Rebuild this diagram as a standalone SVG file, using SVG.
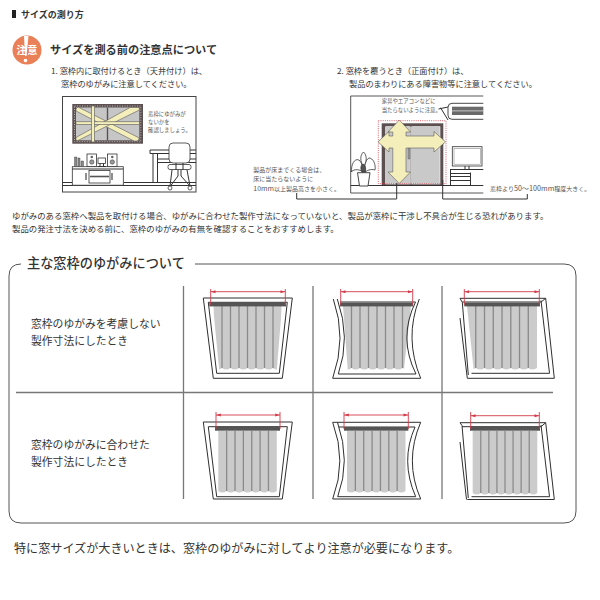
<svg xmlns="http://www.w3.org/2000/svg" width="600" height="600" viewBox="0 0 600 600">
<style>
text{font-family:"Noto Sans CJK JP","Noto Sans",sans-serif;fill:#333}
.b{font-size:8.2px}
.t{font-size:8.42px}
.s{font-size:5.4px;fill:#555}
.m{font-size:6px;fill:#555}
.l{font-size:10.8px}
.ln{fill:none;stroke:#333;stroke-width:1}
.fr{fill:none;stroke:#2f2f2f;stroke-width:1}
.g{fill:none;stroke:#777;stroke-width:1.3}
.rd{fill:none;stroke:#d23a48;stroke-width:.9}
.rh{fill:#d23a48}
.rail{fill:#555}
.pl{fill:#cbcbcb}
.sp{stroke:#8a8a8a;stroke-width:1.3;fill:none}
.y{fill:#f4eebb;stroke:#5a5a5a;stroke-width:.6}
.wh{fill:#fff;stroke:#333;stroke-width:.8}
</style>
<defs>
<g id="c8">
<path class="pl" d="M0 0H68V62q-4.250 3-8.500 0q-4.250 3-8.500 0q-4.250 3-8.500 0q-4.250 3-8.500 0q-4.250 3-8.500 0q-4.250 3-8.500 0q-4.250 3-8.500 0q-4.250 3-8.500 0Z"/>
<path class="sp" d="M8.500 0V62M17 0V62M25.500 0V62M34 0V62M42.500 0V62M51 0V62M59.500 0V62"/>
</g>
<g id="c7">
<path class="pl" d="M0 0H58.500V60q-4.180 3-8.360 0q-4.180 3-8.360 0q-4.180 3-8.360 0q-4.180 3-8.360 0q-4.180 3-8.360 0q-4.180 3-8.360 0q-4.180 3-8.340 0Z"/>
<path class="sp" d="M8.360 0V60M16.720 0V60M25.080 0V60M33.440 0V60M41.800 0V60M50.160 0V60"/>
</g>
<clipPath id="k1"><polygon points="213,306 282,306 276.500,373 219.500,373"/></clipPath>
<clipPath id="k2"><polygon points="343,306 411,306 403.500,373 348,373"/></clipPath>
<clipPath id="k3"><polygon points="467,306 537,306 537,373 474,373"/></clipPath>
</defs>

<g id="header">
<rect x="12" y="10" width="4" height="8" fill="#222"/>
<text x="21" y="18" font-size="9" font-weight="700">サイズの測り方</text>
</g>

<g id="notice-icon">
<circle cx="27" cy="50" r="14.500" fill="#e98058"/>
<polygon points="24,36 28.500,36 26.500,56 25,56" fill="#fff"/>
<circle cx="25.500" cy="60.500" r="1.800" fill="#fff"/>
<text x="16.500" y="53.500" font-size="9.800" font-weight="700" style="fill:#fff">注</text>
<text x="27.500" y="53.500" font-size="9.800" font-weight="700" style="fill:#fff">意</text>
</g>
<text id="heading" x="50" y="54" font-size="11.200" font-weight="700">サイズを測る前の注意点について</text>

<g id="case1-text">
<text class="b" x="51" y="74">1. 窓枠内に取付けるとき（天井付け）は、</text>
<text class="b" x="61" y="87">窓枠のゆがみに注意してください。</text>
</g>
<g id="case2-text">
<text class="b" x="337" y="74">2. 窓枠を覆うとき（正面付け）は、</text>
<text class="b" x="349" y="87">製品のまわりにある障害物等に注意してください。</text>
</g>

<g id="room1">
<rect x="62.500" y="96.500" width="133.500" height="95.500" fill="#fff" stroke="#444" stroke-width="1"/>
<path class="ln" d="M62.500 182.500H72M123.500 182.500H196M62.500 185.500H196"/>
<rect x="72.300" y="104" width="70.700" height="39.700" fill="#5c5050"/>
<rect x="74.500" y="106" width="66.300" height="35.700" fill="none" stroke="#fff" stroke-width=".6" stroke-dasharray="1 1.500"/>
<rect x="76" y="107.500" width="63.300" height="32.800" fill="#c6c6c6"/>
<rect x="106.800" y="107.500" width="1.400" height="32.800" fill="#5c5050"/>
<g class="y">
<polygon points="76,109 78,107 139.300,138 137.500,141 134,141 76,111"/>
<polygon points="76,137.500 130,107.500 135,107.500 139.300,107.500 139.300,110 78,140.500 76,140.300"/>
<rect x="76" y="121.800" width="63.300" height="2.600"/>
<rect x="91.500" y="106" width="3" height="36"/>
</g>
<text class="s" x="148" y="116">窓枠にゆがみが</text>
<text class="s" x="148" y="124">ないかを</text>
<text class="s" x="148" y="131.500">確認しましょう。</text>
<path class="ln" d="M150 150H196M150 153.500H196M150 150V153.500M153 153.500V182.500M157.500 153.500V182.500M157.500 159H196M157.500 162.500H196"/>
<rect class="wh" x="169" y="143" width="21" height="20" rx="4"/>
<rect class="wh" x="168" y="164.500" width="23" height="5" rx="2"/>
<path class="ln" d="M176 163V170M183 163V170M178 170V176L170.500 186M181 170V176L190 186M172 170L170 186M187 170L190 186"/>
<circle class="wh" cx="170" cy="188" r="2"/>
<circle class="wh" cx="190" cy="188" r="2"/>
<rect class="wh" x="72.300" y="166.700" width="51" height="18.500"/>
<path class="ln" d="M72.300 169H123.300"/>
<rect class="wh" x="89" y="170.500" width="21" height="12.500"/>
<path d="M90 176.500H109" stroke="#555" stroke-width="1.600"/>
<path d="M86 173V180M112 173V180" stroke="#444" stroke-width="1.200"/>
<rect class="wh" x="87" y="154" width="9.500" height="12.500"/>
<rect class="wh" x="107.500" y="154" width="9.500" height="12.500"/>
<circle cx="91.800" cy="157" r="1.300" fill="#666"/><circle cx="91.800" cy="162" r="2.200" fill="#999" stroke="#333" stroke-width=".5"/>
<circle cx="112.300" cy="157" r="1.300" fill="#666"/><circle cx="112.300" cy="162" r="2.200" fill="#999" stroke="#333" stroke-width=".5"/>
<rect class="wh" x="98" y="158" width="7.500" height="5.500"/>
<path class="ln" d="M97.500 166.500H106M100 163.500V166.500M103.500 163.500V166.500"/>
<path d="M74.500 157H77V166.500H74.500ZM78 158H80V166.500H78ZM81 161H83.500V166.500H81Z" fill="#8a8a8a" stroke="#333" stroke-width=".4"/>
</g>

<g id="room2">
<path d="M350.700 193V96H483.300M483.300 193H350.700" fill="none" stroke="#444" stroke-width=".9"/>
<path class="ln" d="M350.700 185.500H483.300"/>
<rect x="381.700" y="123.300" width="61.600" height="61.700" fill="#5c5050"/>
<rect x="385.700" y="126.700" width="24.500" height="57.300" fill="#c9c9c9" stroke="#fff" stroke-width=".6"/>
<rect x="411.700" y="126.700" width="28.300" height="57.300" fill="#c9c9c9" stroke="#fff" stroke-width=".6"/>
<rect x="408" y="148" width="2" height="11" fill="#999" stroke="#444" stroke-width=".3"/>
<rect x="378.300" y="120.700" width="67.700" height="63" fill="none" stroke="#d23a48" stroke-width=".8" stroke-dasharray="1 1.200"/>
<polygon class="y" points="399.300,120 410.500,132 406,132 406,136 434,136 434,131.500 445.500,141.800 434,152 434,148 406,148 406,172 410.500,172 399.300,183.500 388,172 392.800,172 392.800,148 389,148 389,152 378,141.800 389,131.500 389,136 392.800,136 392.800,132 388,132"/>
<text class="s" x="381.700" y="103">家具やエアコンなどに</text>
<text class="s" x="381.700" y="111.700">当たらないように注意。</text>
<path class="ln" d="M448 120L441 108.500L440 108M438.500 109L448 107" stroke-width=".7"/>
<path d="M483.300 103.300H452a4 4 0 0 0-4 4V115.300a4 4 0 0 0 4 4H483.300" fill="#fff" stroke="#333" stroke-width=".9"/>
<rect x="452" y="106.700" width="31.300" height="8.300" fill="#6a6a6a"/>
<rect x="452" y="110.500" width="31.300" height=".8" fill="#ddd"/>
<rect class="wh" x="452.300" y="146.700" width="29.700" height="19.300"/>
<rect x="454" y="148.500" width="26.300" height="15.700" fill="none" stroke="#777" stroke-width=".5"/>
<path class="ln" d="M465 166V169M469 166V169M450 169.500H483.300"/>
<path class="ln" d="M450.500 169.500V185.500M470.500 172.500V185M451 173.500H470.500M451 176.500H470.500M451 180.500H470.500"/>
<path d="M357.500 172.700H370L368 186H359.500Z" fill="#fff" stroke="#333" stroke-width=".9"/>
<g fill="#fff" stroke="#333" stroke-width=".8">
<path d="M363 172C358 168 352 170 351.500 172C351 165 354 158 359 160C362 163 364 168 363 172Z"/>
<path d="M365 172C371 168 374 170 375 170C376 164 373 158 369 158C365 160 364 167 365 172Z"/>
<path d="M363 166C360 161 360 155 363.500 152C367 155 367 161 364 166Z"/>
<path d="M362 172C360 168 361 165 363 164C366 166 366 169 365 172Z" fill="#555"/>
</g>
<path class="ln" d="M296.700 193V199H396.700V183M442.700 180V199H527.300V194" stroke-width=".8"/>
<text class="m" x="253.300" y="171.700">製品が床までくる場合は、</text>
<text class="m" x="253.300" y="180.700">床に当たらないように</text>
<text class="m" x="253.300" y="190.700"><tspan font-size="7">10mm</tspan>以上製品高さを小さく。</text>
<text class="m" x="490" y="191">窓枠より<tspan font-size="7.200">50～100mm</tspan>程度大きく。</text>
</g>

<g id="body-text">
<text class="t" x="12" y="219">ゆがみのある窓枠へ製品を取付ける場合、ゆがみに合わせた製作寸法になっていないと、製品が窓枠に干渉し不具合が生じる恐れがあります。</text>
<text class="t" x="12" y="232">製品の発注寸法を決める前に、窓枠のゆがみの有無を確認することをおすすめします。</text>
</g>

<g id="table">
<path d="M21 264Q9 264 9 276V511Q9 523 21 523H564Q576 523 576 511V276Q576 264 564 264H195" fill="none" stroke="#555" stroke-width="1"/>
<text x="27" y="268" font-size="13.200" font-weight="500">主な窓枠のゆがみについて</text>
<path class="g" d="M183.500 286V499M313 286V499M442 286V499M16 392.500H553"/>
<text class="l" x="31" y="328">窓枠のゆがみを考慮しない</text>
<text class="l" x="31" y="345">製作寸法にしたとき</text>
<text class="l" x="31" y="449">窓枠のゆがみに合わせた</text>
<text class="l" x="31" y="466">製作寸法にしたとき</text>
</g>

<g id="panel1">
<g clip-path="url(#k1)"><use href="#c8" transform="translate(213.500,306)"/></g>
<path class="fr" d="M203.300 298H292.300L282.300 378.300H213.300ZM208.300 302.300H287.300L279.300 373.300H216.700Z"/>
<rect class="rail" x="209.300" y="302.700" width="76.700" height="3.700"/>
<path class="rd" d="M210.700 289V305M285.300 289V305M210.700 291.700H285.300"/>
<path class="rh" d="M211 291.700l4.500-1.500v3ZM285 291.700l-4.500-1.500v3Z"/>
</g>

<g id="panel2">
<g clip-path="url(#k2)"><use href="#c8" transform="translate(343,306)"/></g>
<path class="fr" d="M333.300 299Q347 338 332.700 378.300H420.700Q404 338 419.300 299M337.300 299Q351 338 338.300 374H416Q398 338 415.500 302H340"/>
<rect class="rail" x="340" y="302.700" width="73" height="3.700"/>
<path class="rd" d="M340.700 289V305M412.700 289V305M340.700 291.700H412.700"/>
<path class="rh" d="M341 291.700l4.500-1.500v3ZM412.400 291.700l-4.500-1.500v3Z"/>
</g>

<g id="panel3">
<g clip-path="url(#k3)"><use href="#c8" transform="translate(467,306) scale(1.03,1)"/></g>
<path class="fr" d="M460 318L467.300 378.300H554.300L545.700 298.300H460L462.300 302.300L468.300 375M471.500 373.300H549.500L541 300.500M462.300 302H541M541 302L545.700 298.300"/>
<rect class="rail" x="464.300" y="302.700" width="75.700" height="3.700"/>
<path class="rd" d="M464.300 289V305M539.300 289V305M464.300 291.700H539.300"/>
<path class="rh" d="M464.600 291.700l4.500-1.500v3ZM539 291.700l-4.500-1.500v3Z"/>
</g>

<g id="panel4">
<use href="#c7" transform="translate(218.300,431)"/>
<path class="fr" d="M203.300 422H292.300L282.300 499H213.300ZM208.300 426.700H287.300L279.300 496.700H216.700Z"/>
<rect class="rail" x="215" y="427" width="65" height="3.700"/>
<path class="rd" d="M216 412V429M280 412V429M216 415H280"/>
<path class="rh" d="M216.300 415l4.500-1.500v3ZM279.700 415l-4.500-1.500v3Z"/>
</g>

<g id="panel5">
<use href="#c7" transform="translate(347,431)"/>
<path class="fr" d="M420.700 422.300H332.700Q347 461 332.700 499H420.700Q404 461 420.700 422.300M337.500 422.300Q351 461 337.700 496.700H415.700Q400 461 415 427H339"/>
<rect class="rail" x="344" y="427" width="64.300" height="3.700"/>
<path class="rd" d="M344 412V429M408.300 412V429M344 415H408.300"/>
<path class="rh" d="M344.300 415l4.500-1.500v3ZM408 415l-4.500-1.500v3Z"/>
</g>

<g id="panel6">
<use href="#c8" transform="translate(472.700,431) scale(.95,1)"/>
<path class="fr" d="M460 442L466.500 499.500M467.300 499.500H554.300L545.700 422.700H460L462 425.500L468.300 498M471.500 496.700H549.500L541 425M462 426.700H541M541 426.700L545.700 422.700"/>
<rect class="rail" x="470" y="427" width="70" height="3.700"/>
<path class="rd" d="M470.700 412V429M539.300 412V429M470.700 415.700H539.300"/>
<path class="rh" d="M471 415.700l4.500-1.500v3ZM539 415.700l-4.500-1.500v3Z"/>
</g>

<text id="footer" x="14" y="553" font-size="12.100">特に窓サイズが大きいときは、窓枠のゆがみに対してより注意が必要になります。</text>
</svg>
